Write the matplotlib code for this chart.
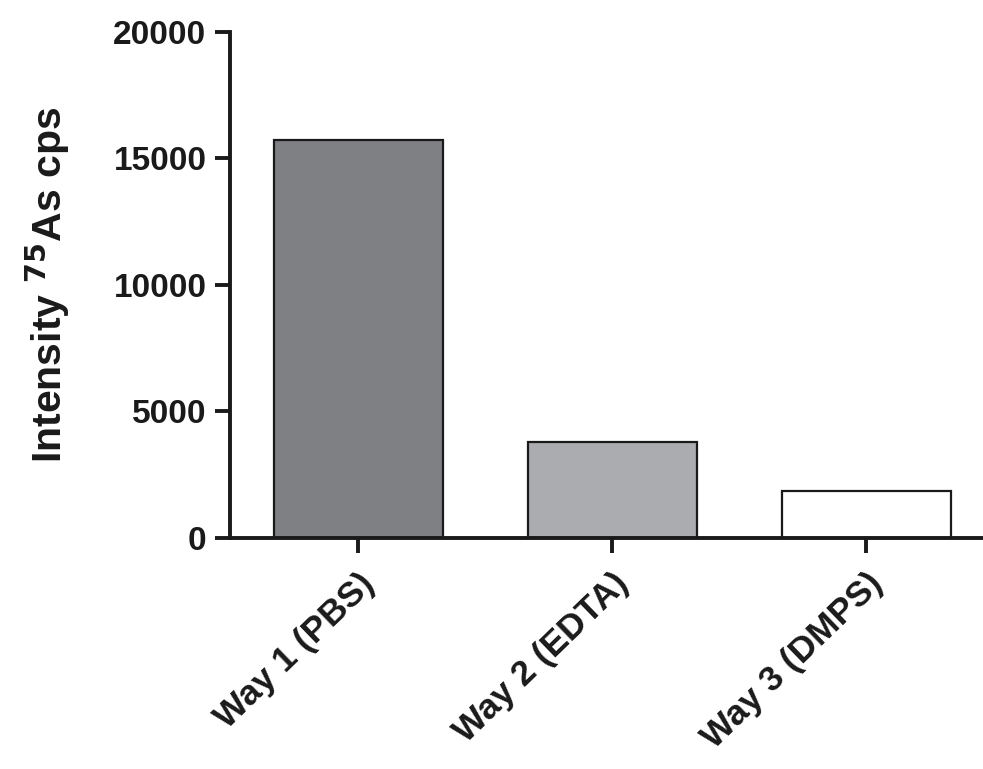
import matplotlib
matplotlib.use("Agg")
import matplotlib.pyplot as plt

categories = ["Way 1 (PBS)", "Way 2 (EDTA)", "Way 3 (DMPS)"]
values = [15750, 3800, 1870]
colors = ["#7f8083", "#abacb0", "#ffffff"]
yticks = [0, 5000, 10000, 15000, 20000]

plt.rcParams['font.family'] = ['Liberation Sans', 'DejaVu Sans']
plt.rcParams['font.weight'] = 'bold'

fig = plt.figure(figsize=(9.83, 7.69), dpi=100)
ax = fig.add_axes([0.234, 0.3004, 0.766, 0.658])

x = list(range(len(categories)))
ax.bar(x, values, width=0.665, color=colors, edgecolor="#1a1a1a", linewidth=1.6, zorder=2)

ax.set_xlim(-0.504, 2.46)
ax.set_ylim(0, 20000)
ax.set_yticks(yticks)
ax.set_yticklabels([str(v) for v in yticks], fontsize=24, fontweight='bold', color="#1a1a1a")
ax.set_xticks(x)
ax.set_xticklabels(categories, fontsize=25.5, fontweight='bold', color="#1a1a1a",
                   rotation=44, ha='right', va='top', rotation_mode='anchor')

for s in ['top', 'right']:
    ax.spines[s].set_visible(False)
for s in ['left', 'bottom']:
    ax.spines[s].set_linewidth(2.8)
    ax.spines[s].set_color("#1a1a1a")

ax.tick_params(axis='both', direction='out', length=11, width=2.8, color="#1a1a1a")
ax.tick_params(axis='y', pad=6)
ax.tick_params(axis='x', pad=10)

ax.set_ylabel(r"Intensity $^{\mathbf{75}}$As cps", fontsize=29.5, fontweight='bold',
              color="#1a1a1a", labelpad=30)

fig.savefig("out.png", dpi=100)
